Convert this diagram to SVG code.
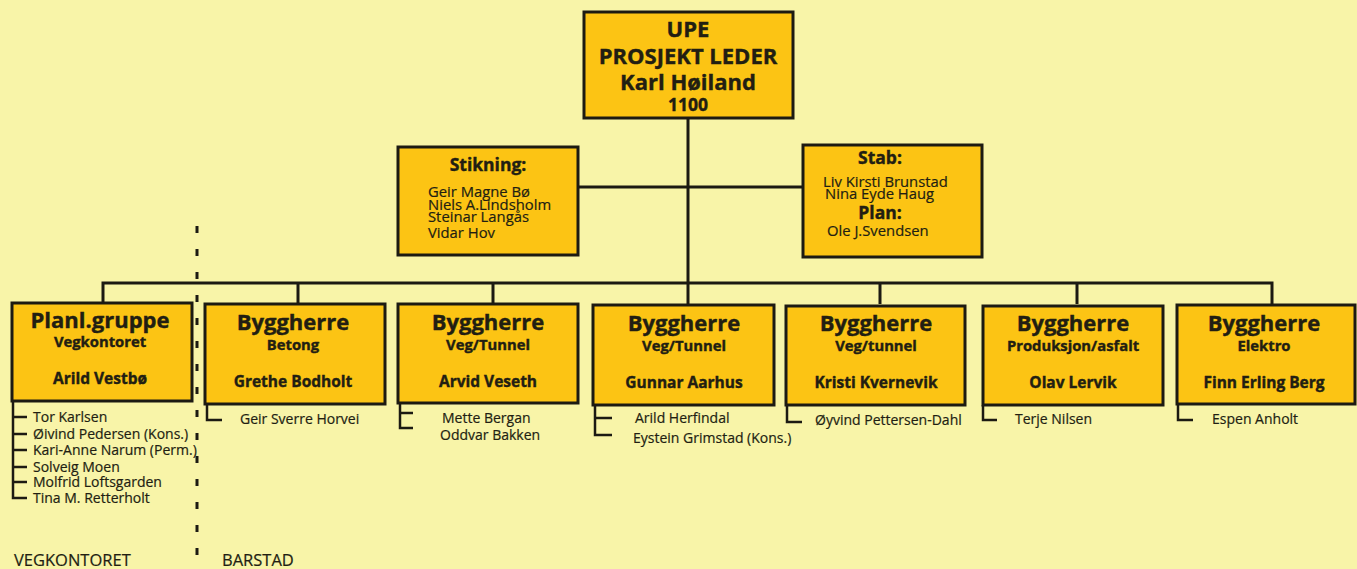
<svg xmlns="http://www.w3.org/2000/svg" width="1357" height="569" viewBox="0 0 1357 569">
<style>
.box{fill:#fcc414;stroke:#1c1a12;stroke-width:3}
.ln{fill:none;stroke:#1c1a12;stroke-width:3}
.br{fill:none;stroke:#1c1a12;stroke-width:2.5}
text{font-family:"Open Sans","Noto Sans","DejaVu Sans",sans-serif;fill:#221e12}
.b{font-weight:bold;text-anchor:middle;stroke:#221e12;stroke-width:0.4}
.t0{font-size:22px}
.t1{font-size:22px}
.t2{font-size:14.8px}
.t3{font-size:15.5px}
.h{font-size:17.5px}
.n{font-size:14.8px;stroke:#221e12;stroke-width:0.2}
.s{font-size:14px;stroke:#221e12;stroke-width:0.2}
.lab{font-size:16.5px;stroke:#221e12;stroke-width:0.2}
</style>
<rect width="1357" height="569" fill="#f8f4a8"/>
<g id="connectors">
<path class="ln" d="M688 118V283M578 187H802M103 304V283H1272V304M298 283V304M493 283V304M688 283V304M880 283V304M1077 283V304"/>
<path d="M197 226V560" stroke="#1c1a12" stroke-width="3" stroke-dasharray="7 16" fill="none"/>
</g>
<g id="top">
<rect class="box" x="584" y="12" width="209" height="106"/>
<text class="b t0" x="688" y="37">UPE</text>
<text class="b t0" x="688" y="64">PROSJEKT LEDER</text>
<text class="b t0" x="688" y="90">Karl Høiland</text>
<text class="b h" x="688" y="111">1100</text>
</g>
<g id="stikning">
<rect class="box" x="398" y="147" width="180" height="108"/>
<text class="b h" x="488" y="171">Stikning:</text>
<text class="n" x="428" y="197">Geir Magne Bø</text>
<text class="n" x="428" y="210">Niels A.Lindsholm</text>
<text class="n" x="428" y="222">Steinar Langås</text>
<text class="n" x="428" y="238">Vidar Hov</text>
</g>
<g id="stab">
<rect class="box" x="803" y="145" width="179" height="112"/>
<text class="b h" x="880" y="164">Stab:</text>
<text class="n" x="823" y="187">Liv Kirsti Brunstad</text>
<text class="n" x="825" y="199">Nina Eyde Haug</text>
<text class="b h" x="880" y="219">Plan:</text>
<text class="n" x="827" y="236">Ole J.Svendsen</text>
</g>
<g id="planl">
<rect class="box" x="12" y="303" width="180" height="98"/>
<text class="b t1" x="100" y="328">Planl.gruppe</text>
<text class="b t2" x="100" y="347">Vegkontoret</text>
<text class="b t3" x="100" y="384">Arild Vestbø</text>
<path class="br" d="M13 401V498H27M13 417H27M13 434H27M13 450H27M13 467H27M13 482H27"/>
<text class="s" x="33" y="422">Tor Karlsen</text>
<text class="s" x="33" y="439">Øivind Pedersen (Kons.)</text>
<text class="s" x="33" y="455">Kari-Anne Narum (Perm.)</text>
<text class="s" x="33" y="472">Solveig Moen</text>
<text class="s" x="33" y="487">Molfrid Loftsgarden</text>
<text class="s" x="33" y="503">Tina M. Retterholt</text>
</g>
<g id="betong">
<rect class="box" x="205" y="304" width="180" height="100"/>
<text class="b t1" x="293" y="330">Byggherre</text>
<text class="b t2" x="293" y="350">Betong</text>
<text class="b t3" x="293" y="387">Grethe Bodholt</text>
<path class="br" d="M207 404V420H222"/>
<text class="s" x="240" y="424">Geir Sverre Horvei</text>
</g>
<g id="vegtunnel1">
<rect class="box" x="398" y="304" width="180" height="99"/>
<text class="b t1" x="488" y="330">Byggherre</text>
<text class="b t2" x="488" y="350">Veg/Tunnel</text>
<text class="b t3" x="488" y="387">Arvid Veseth</text>
<path class="br" d="M400 403V428H413M400 413H413"/>
<text class="s" x="442" y="423">Mette Bergan</text>
<text class="s" x="440" y="440">Oddvar Bakken</text>
</g>
<g id="vegtunnel2">
<rect class="box" x="593" y="305" width="181" height="100"/>
<text class="b t1" x="684" y="331">Byggherre</text>
<text class="b t2" x="684" y="351">Veg/Tunnel</text>
<text class="b t3" x="684" y="388">Gunnar Aarhus</text>
<path class="br" d="M595 405V435H612M595 418H612"/>
<text class="s" x="635" y="423">Arild Herfindal</text>
<text class="s" x="633" y="443">Eystein Grimstad (Kons.)</text>
</g>
<g id="vegtunnel3">
<rect class="box" x="786" y="306" width="179" height="99"/>
<text class="b t1" x="876" y="331">Byggherre</text>
<text class="b t2" x="876" y="351">Veg/tunnel</text>
<text class="b t3" x="876" y="388">Kristi Kvernevik</text>
<path class="br" d="M787 405V422H802"/>
<text class="s" x="815" y="425">Øyvind Pettersen-Dahl</text>
</g>
<g id="asfalt">
<rect class="box" x="983" y="306" width="180" height="99"/>
<text class="b t1" x="1073" y="331">Byggherre</text>
<text class="b t2" x="1073" y="351">Produksjon/asfalt</text>
<text class="b t3" x="1073" y="388">Olav Lervik</text>
<path class="br" d="M983 405V420H997"/>
<text class="s" x="1015" y="424">Terje Nilsen</text>
</g>
<g id="elektro">
<rect class="box" x="1177" y="305" width="178" height="99"/>
<text class="b t1" x="1264" y="331">Byggherre</text>
<text class="b t2" x="1264" y="351">Elektro</text>
<text class="b t3" x="1264" y="388">Finn Erling Berg</text>
<path class="br" d="M1178 404V420H1193"/>
<text class="s" x="1212" y="424">Espen Anholt</text>
</g>
<g id="labels">
<text class="lab" x="14" y="566">VEGKONTORET</text>
<text class="lab" x="222" y="566">BARSTAD</text>
</g>
</svg>
